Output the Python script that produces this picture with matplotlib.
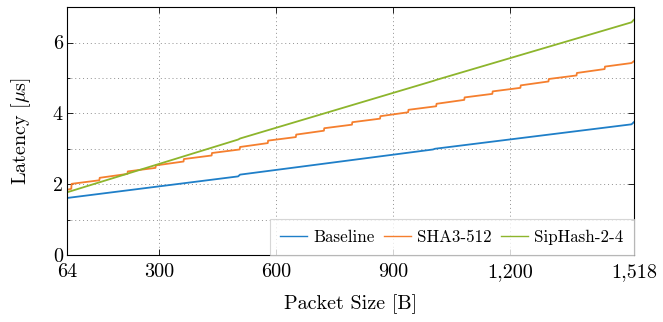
import matplotlib
matplotlib.use("Agg")
import matplotlib.pyplot as plt

# packet sizes in bytes, latency in microseconds
baseline_x = [64, 503, 508, 1003, 1008, 1512, 1518]
baseline_y = [1.61, 2.22, 2.27, 2.98, 3.00, 3.69, 3.75]

sha3_x = [64, 75, 76, 147, 148, 219, 220, 291, 292, 363, 364, 435, 436, 507, 508,
          579, 580, 651, 652, 723, 724, 795, 796, 867, 868, 939, 940, 1011, 1012,
          1083, 1084, 1155, 1156, 1227, 1228, 1299, 1300, 1371, 1372, 1443, 1444,
          1512, 1518]
sha3_y = [1.84, 1.87, 2.01, 2.11, 2.18, 2.29, 2.36, 2.46, 2.53, 2.64, 2.71, 2.81, 2.88,
          2.98, 3.05, 3.16, 3.23, 3.33, 3.40, 3.51, 3.58, 3.68, 3.75, 3.85, 3.92,
          4.03, 4.10, 4.20, 4.27, 4.38, 4.45, 4.55, 4.62, 4.72, 4.79, 4.90, 4.97,
          5.07, 5.14, 5.25, 5.32, 5.42, 5.47]

sip_x = [64, 503, 508, 1005, 1010, 1512, 1518]
sip_y = [1.77, 3.26, 3.29, 4.92, 4.94, 6.57, 6.64]

xticks = [64, 300, 600, 900, 1200, 1518]
xticklabels = ["64", "300", "600", "900", "1,200", "1,518"]
yticks = [0, 2, 4, 6]

plt.rcParams['font.family'] = ['cmr10', 'DejaVu Serif']
plt.rcParams['mathtext.fontset'] = 'cm'
plt.rcParams['axes.unicode_minus'] = False

fig = plt.figure(figsize=(6.63, 3.22), dpi=100)
ax = fig.add_axes([0.101, 0.208, 0.855, 0.770])

ax.plot(baseline_x, baseline_y, color='#1f7fc8', lw=1.3, label='Baseline')
ax.plot(sha3_x, sha3_y, color='#f57f2e', lw=1.3, label='SHA3-512')
ax.plot(sip_x, sip_y, color='#8db52c', lw=1.3, label='SipHash-2-4')

ax.set_xlim(64, 1518)
ax.set_ylim(0, 7)
ax.set_xticks(xticks)
ax.set_xticklabels(xticklabels)
ax.set_yticks(yticks)
ax.set_yticks([1, 3, 5], minor=True)

ax.grid(True, which='both', color='#909090', linestyle=(0, (1, 3)), linewidth=0.7)
ax.tick_params(which='both', direction='in', top=True, right=True, labelsize=14.5,
               width=0.6, length=4)
ax.tick_params(axis='x', pad=6)
ax.tick_params(axis='y', pad=3)
ax.tick_params(which='minor', length=2.5)
for s in ax.spines.values():
    s.set_linewidth(0.8)

ax.set_xlabel('Packet Size [B]', fontsize=14.5, labelpad=9)
ax.set_ylabel(r'Latency [$\mu$s]', fontsize=14.5, labelpad=14)

leg = ax.legend(loc='lower right', ncol=3, fontsize=12.2, frameon=True, fancybox=False,
                borderaxespad=0, handlelength=1.6, handletextpad=0.4, columnspacing=0.5,
                borderpad=0.6)
leg.get_frame().set_edgecolor('#cccccc')
leg.get_frame().set_linewidth(0.8)
for line in leg.get_lines():
    line.set_linewidth(1.0)

fig.savefig('out.png', dpi=100)
